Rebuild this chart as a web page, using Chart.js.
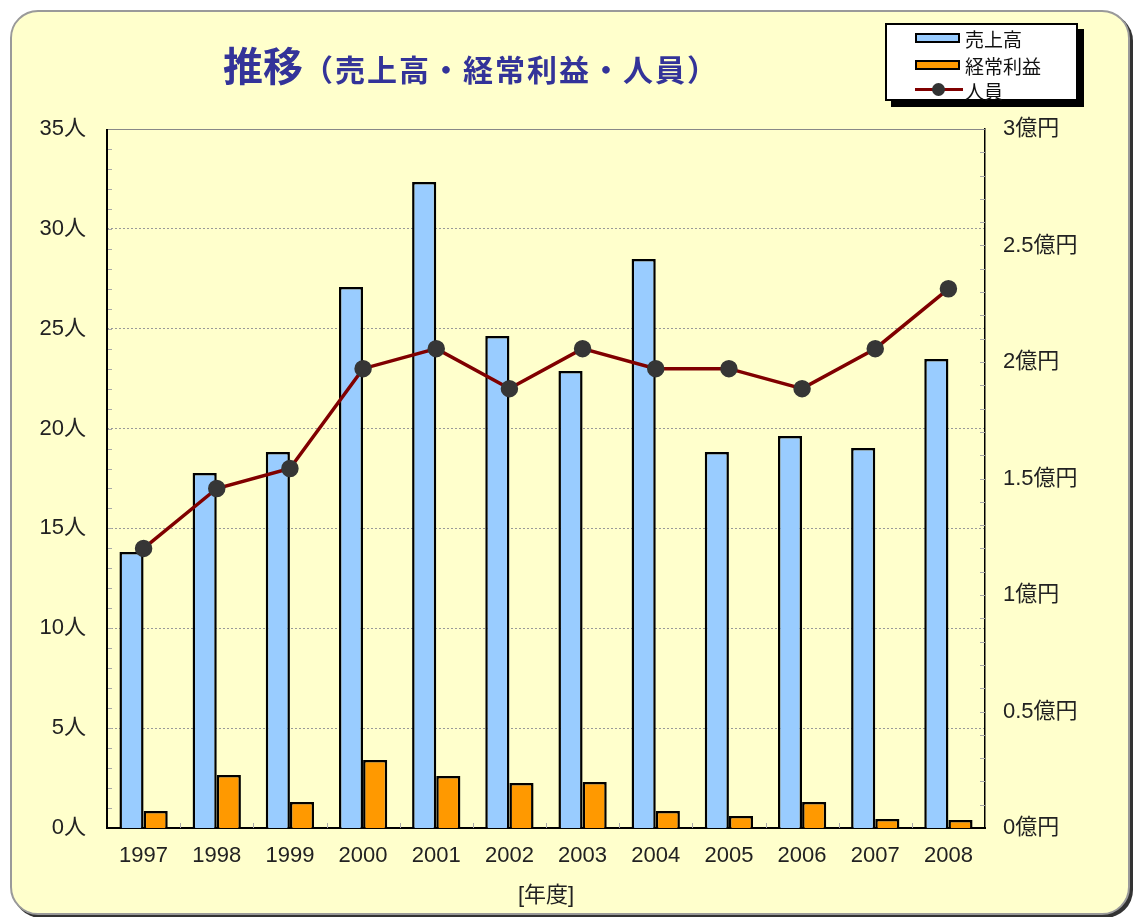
<!DOCTYPE html>
<html>
<head>
<meta charset="utf-8">
<script src="https://cdn.jsdelivr.net/npm/chart.js@4"></script>
<style>
  body { margin: 0; background: #fff; width: 1139px; height: 917px; position: relative; overflow: hidden; }
  #frame { position: absolute; left: 10px; top: 10px; width: 1116px; height: 901px; border: 2px solid #9a9a9a; border-radius: 28px; background: #ffffcc; box-shadow: 3px 3px 0 #333; }
  #chart { position: absolute; left: 0; top: 0; }
  #title { position: absolute; left: 223px; top: 44px; color: #333399; font-family: "Noto Sans CJK JP", sans-serif; font-weight: bold; white-space: nowrap; line-height: 1; }
  #title .big { font-size: 40px; }
  #title .small { font-size: 30px; letter-spacing: 2px; }
  #legend { position: absolute; left: 885px; top: 23px; width: 189px; height: 74px; border: 2px solid #000; background: #fff; box-shadow: 6px 6px 0 #000; font-family: "Noto Sans CJK JP", sans-serif; font-size: 19px; color: #111; }
  .sw { position: absolute; left: 28px; width: 41px; height: 6px; border: 2px solid #000; }
  .lbl { position: absolute; left: 78px; line-height: 1; white-space: nowrap; }
  .ln { position: absolute; left: 28px; width: 48px; height: 3px; background: #800000; }
  .dot { position: absolute; left: 45px; width: 13px; height: 13px; border-radius: 50%; background: #333; }
</style>
</head>
<body>
<div id="frame"></div>
<canvas id="chart" width="1139" height="917"></canvas>
<div id="title"><span class="big">推移</span><span class="small">（売上高・経常利益・人員）</span></div>
<div id="legend">
  <div class="sw" style="top:8px;background:#99ccff"></div><div class="lbl" style="top:4px">売上高</div>
  <div class="sw" style="top:35px;background:#ff9900"></div><div class="lbl" style="top:31px">経常利益</div>
  <div class="ln" style="top:63px"></div><div class="dot" style="top:58px"></div><div class="lbl" style="top:56px">人員</div>
</div>
<script>
const years = ["1997", "1998", "1999", "2000", "2001", "2002", "2003", "2004", "2005", "2006", "2007", "2008"];
// 億円
const sales = [1.185, 1.524, 1.614, 2.322, 2.773, 2.112, 1.961, 2.442, 1.614, 1.682, 1.631, 2.013];
const profit = [0.073, 0.227, 0.112, 0.292, 0.223, 0.193, 0.197, 0.073, 0.052, 0.112, 0.039, 0.034];
// 人
const staff = [14, 17, 18, 23, 24, 22, 24, 23, 23, 22, 24, 27];

const tickFont = { family: "'Liberation Sans', 'Noto Sans CJK JP', sans-serif", size: 22 };

// small inner ticks, grey top edge, solid left edge
const minorTicks = {
    id: "minorTicks",
    beforeDatasetsDraw(chart) {
        const ctx = chart.ctx;
        const a = chart.chartArea;
        const y = chart.scales.y, y1 = chart.scales.y1, x = chart.scales.x;
        ctx.save();
        ctx.strokeStyle = "#aaa";
        ctx.lineWidth = 1;
        ctx.beginPath();
        for (let v = 1; v < 35; v++) {
            const p = Math.round(y.getPixelForValue(v)) + 0.5;
            ctx.moveTo(a.left, p); ctx.lineTo(a.left + 5, p);
        }
        for (let i = 1; i < 30; i++) {
            const p = Math.round(y1.getPixelForValue(i / 10)) + 0.5;
            ctx.moveTo(a.right - 5, p); ctx.lineTo(a.right, p);
        }
        for (let i = 1; i < years.length; i++) {
            const p = Math.round((x.getPixelForValue(i - 1) + x.getPixelForValue(i)) / 2) + 0.5;
            ctx.moveTo(p, a.bottom); ctx.lineTo(p, a.bottom - 5);
        }
        ctx.stroke();
        ctx.strokeStyle = "#888";
        ctx.beginPath();
        ctx.moveTo(a.left, a.top + 0.5); ctx.lineTo(a.right, a.top + 0.5);
        ctx.stroke();
        ctx.strokeStyle = "#000";
        ctx.lineWidth = 2;
        ctx.beginPath();
        ctx.moveTo(a.left, a.top); ctx.lineTo(a.left, a.bottom + 1);
        ctx.stroke();
        ctx.restore();
    }
};

new Chart(document.getElementById("chart"), {
    data: {
        labels: years,
        datasets: [
            {
                type: "line",
                label: "人員",
                data: staff,
                yAxisID: "y",
                borderColor: "#800000",
                borderWidth: 3.5,
                pointRadius: 7,
                pointBackgroundColor: "#363636",
                pointBorderColor: "#363636",
                tension: 0,
                order: 0
            },
            {
                type: "bar",
                label: "売上高",
                data: sales,
                yAxisID: "y1",
                backgroundColor: "#99ccff",
                borderColor: "#000",
                borderWidth: 2.5,
                categoryPercentage: 0.66,
                barPercentage: 1,
                order: 1
            },
            {
                type: "bar",
                label: "経常利益",
                data: profit,
                yAxisID: "y1",
                backgroundColor: "#ff9900",
                borderColor: "#000",
                borderWidth: 2.5,
                categoryPercentage: 0.66,
                barPercentage: 1,
                order: 1
            }
        ]
    },
    options: {
        responsive: false,
        animation: false,
        layout: { padding: { top: 129, left: 0, right: 0, bottom: 0 } },
        plugins: { legend: { display: false }, tooltip: { enabled: false } },
        scales: {
            x: {
                grid: { display: false, drawTicks: false },
                border: { color: "#000", width: 2 },
                ticks: { font: tickFont, color: "#222", padding: 15, maxRotation: 0 },
                title: { display: true, text: "[年度]", font: tickFont, color: "#222", padding: { top: 4, bottom: 8 } },
                afterFit(s) { s.height = 89; }
            },
            y: {
                position: "left",
                min: 0, max: 35,
                ticks: { stepSize: 5, font: tickFont, color: "#222", padding: 21, callback: v => v + "人" },
                grid: { color: "#999", lineWidth: 1, drawTicks: false },
                border: { display: false, dash: [2, 2] },
                afterFit(s) { s.width = 107; }
            },
            y1: {
                position: "right",
                min: 0, max: 3,
                ticks: { stepSize: 0.5, font: tickFont, color: "#222", padding: 18, callback: v => Number(v.toFixed(1)) + "億円" },
                grid: { display: false, drawTicks: false },
                border: { color: "#000", width: 1.5 },
                afterFit(s) { s.width = 154; }
            }
        }
    },
    plugins: [minorTicks]
});
</script>
</body>
</html>
